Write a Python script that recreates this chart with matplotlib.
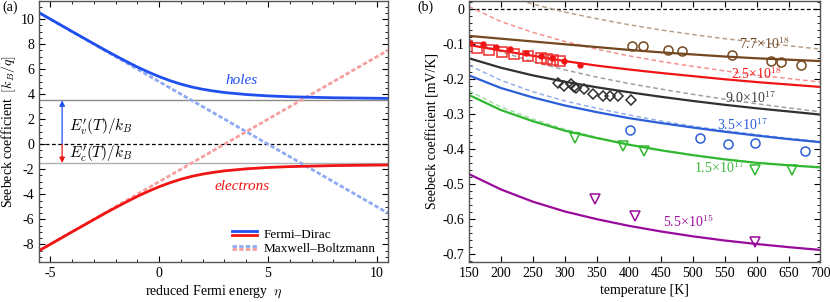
import numpy as np
import matplotlib
matplotlib.use("Agg")
import matplotlib.pyplot as plt
from matplotlib.legend_handler import HandlerBase
from matplotlib.lines import Line2D
from matplotlib.ticker import MultipleLocator, FuncFormatter

plt.rcParams["font.family"] = "Liberation Serif"
plt.rcParams["mathtext.fontset"] = "cm"
plt.rcParams["axes.unicode_minus"] = False
plt.rcParams["font.size"] = 10

# ---- panel (a): Seebeck vs reduced Fermi energy ----
eta = [-5.5, -4.5, -4, -3.5, -3, -2.5, -2, -1.5, -1, -0.5, 0, 0.5, 1, 1.5,
       2, 2.5, 3, 4, 5, 6, 7, 8, 9, 10.5]
S_holes_fd = [10.50, 9.51, 9.01, 8.52, 8.03, 7.54, 7.07, 6.61, 6.17, 5.77, 5.40,
              5.08, 4.80, 4.57, 4.39, 4.25, 4.13, 3.97, 3.86, 3.79, 3.75, 3.71,
              3.69, 3.66]
S_elec_fd = [-8.50, -7.51, -7.01, -6.52, -6.03, -5.54, -5.07, -4.61, -4.17, -3.77,
             -3.40, -3.08, -2.80, -2.57, -2.39, -2.25, -2.13, -1.97, -1.86, -1.79,
             -1.75, -1.71, -1.69, -1.66]
eta_mb = [-5.5, 10.5]
S_holes_mb = [10.5, -5.5]
S_elec_mb = [-8.5, 7.5]
Ev_level = 3.5
Ec_level = -1.5
arrow_eta = -4.45

# ---- panel (b): Seebeck vs temperature ----
T = [150, 200, 250, 300, 350, 400, 450, 500, 550, 600, 650, 700]
fd_77e18 = [-0.076, -0.084, -0.092, -0.100, -0.108, -0.116, -0.123, -0.129, -0.135, -0.140, -0.144, -0.148]
fd_25e18 = [-0.102, -0.118, -0.133, -0.148, -0.161, -0.172, -0.182, -0.191, -0.200, -0.208, -0.215, -0.222]
fd_90e17 = [-0.140, -0.167, -0.189, -0.207, -0.223, -0.237, -0.250, -0.262, -0.273, -0.283, -0.292, -0.301]
fd_35e17 = [-0.189, -0.225, -0.252, -0.275, -0.294, -0.311, -0.325, -0.338, -0.350, -0.361, -0.371, -0.380]
fd_15e17 = [-0.245, -0.288, -0.320, -0.347, -0.368, -0.387, -0.403, -0.417, -0.429, -0.439, -0.446, -0.452]
fd_55e15 = [-0.471, -0.515, -0.550, -0.578, -0.600, -0.619, -0.635, -0.649, -0.661, -0.671, -0.680, -0.688]

T_mb77 = [230, 250, 300, 350, 400, 450, 500, 550, 600, 650, 700]
mb_77e18 = [0.026, 0.015, -0.008, -0.027, -0.044, -0.059, -0.072, -0.084, -0.094, -0.104, -0.114]
mb_25e18 = [0.008, -0.035, -0.066, -0.092, -0.114, -0.133, -0.149, -0.163, -0.176, -0.188, -0.198, -0.208]
mb_90e17 = [-0.086, -0.121, -0.150, -0.173, -0.194, -0.212, -0.228, -0.243, -0.257, -0.270, -0.282, -0.293]
mb_35e17 = [-0.160, -0.203, -0.236, -0.262, -0.283, -0.302, -0.319, -0.334, -0.347, -0.358, -0.369, -0.378]
mb_15e17 = [-0.233, -0.279, -0.314, -0.343, -0.366, -0.386, -0.402, -0.416, -0.428, -0.438, -0.445, -0.451]

T_circ_br = [405, 422, 462, 483, 562, 623, 639, 670]
S_circ_br = [-0.104, -0.106, -0.116, -0.120, -0.131, -0.147, -0.151, -0.158]
T_dot_red = [152, 172, 193, 215, 240, 262, 280, 298, 323]
S_dot_red = [-0.095, -0.098, -0.108, -0.114, -0.126, -0.134, -0.140, -0.148, -0.158]
T_sq_red = [162, 181, 202, 221, 242, 262, 272, 281, 292]
S_sq_red = [-0.112, -0.117, -0.123, -0.128, -0.134, -0.139, -0.142, -0.145, -0.148]
T_dia = [290, 298, 310, 314, 318, 330, 344, 359, 370, 383, 403]
S_dia = [-0.210, -0.218, -0.214, -0.221, -0.224, -0.228, -0.241, -0.248, -0.249, -0.249, -0.259]
T_circ_bl = [402, 512, 556, 598, 676]
S_circ_bl = [-0.344, -0.367, -0.385, -0.382, -0.405]
T_tri_gr = [316, 391, 424, 598, 656]
S_tri_gr = [-0.369, -0.390, -0.404, -0.459, -0.459]
T_tri_pu = [347, 410, 598]
S_tri_pu = [-0.542, -0.592, -0.665]

conc_labels = ["7.7×10$^{18}$", "2.5×10$^{18}$", "9.0×10$^{17}$",
               "3.5×10$^{17}$", "1.5×10$^{17}$", "5.5×10$^{15}$"]
conc_T = [612, 600, 590, 578, 542, 494]
conc_S = [-0.100, -0.185, -0.255, -0.332, -0.455, -0.607]


class PairHandler(HandlerBase):
    # two parallel lines (holes on top, electrons below)
    def create_artists(self, legend, orig_handle, xdescent, ydescent,
                       width, height, fontsize, trans):
        arts = []
        mid = (height - ydescent) / 2
        for ln, dy in zip(orig_handle, (0.2 * height, -0.2 * height)):
            l = Line2D([-xdescent, width - xdescent], [mid + dy, mid + dy])
            l.update_from(ln)
            l.set_transform(trans)
            arts.append(l)
        return arts


fig = plt.figure(figsize=(8.3, 3.02), dpi=100)
ax1 = fig.add_axes([0.0473, 0.133, 0.420, 0.864])
ax2 = fig.add_axes([0.565, 0.133, 0.4235, 0.864])

blue, red = "#1f4fef", "#f01414"
blue_mb, red_mb = "#8eaaf3", "#f5a0a0"
mb_dash = (0, (1.6, 0.8))

ax1.axhline(Ev_level, color="#8a8a8a", lw=1.0)
ax1.axhline(Ec_level, color="#b0b0b0", lw=1.0)
ax1.axhline(0, color="black", lw=0.9, dashes=(3, 2))
mb_h, = ax1.plot(eta_mb, S_holes_mb, color=blue_mb, lw=2.0, linestyle=mb_dash)
mb_e, = ax1.plot(eta_mb, S_elec_mb, color=red_mb, lw=2.0, linestyle=mb_dash)
fd_h, = ax1.plot(eta, S_holes_fd, color=blue, lw=2.0)
fd_e, = ax1.plot(eta, S_elec_fd, color=red, lw=2.0)

ax1.annotate("", xy=(arrow_eta, Ev_level), xytext=(arrow_eta, 0),
             arrowprops=dict(arrowstyle="-|>", color=blue, lw=0.9,
                             mutation_scale=8, shrinkA=0, shrinkB=0))
ax1.annotate("", xy=(arrow_eta, Ec_level), xytext=(arrow_eta, 0),
             arrowprops=dict(arrowstyle="-|>", color=red, lw=0.9,
                             mutation_scale=8, shrinkA=0, shrinkB=0))
ax1.text(-4.13, 1.4, r"$E_v'(T)/k_B$", fontsize=11, va="center")
ax1.text(-4.13, -0.8, r"$E_c'(T)/k_B$", fontsize=11, va="center")
ax1.text(3.8, 5.1, "holes", color=blue, style="italic", fontsize=11, ha="center", va="center")
ax1.text(3.8, -3.4, "electrons", color=red, style="italic", fontsize=11, ha="center", va="center")

ax1.legend([(fd_h, fd_e), (mb_h, mb_e)], ["Fermi–Dirac", "Maxwell–Boltzmann"],
           handler_map={tuple: PairHandler()}, loc="lower right",
           bbox_to_anchor=(1.0, -0.02), frameon=False, handlelength=1.9,
           handletextpad=0.5, labelspacing=0.15, fontsize=9.5)

ax1.set_xlim(-5.5, 10.5)
ax1.set_ylim(-9.4, 11.45)
ax1.xaxis.set_major_locator(MultipleLocator(5))
ax1.xaxis.set_minor_locator(MultipleLocator(1))
ax1.yaxis.set_major_locator(MultipleLocator(2))
ax1.yaxis.set_minor_locator(MultipleLocator(0.5))
ax1.set_xlabel(r"reduced Fermi energy  $\eta$", labelpad=3)
ax1.set_ylabel(r"Seebeck coefficient  $[k_B/q]$", labelpad=2)

# panel (b)
ax2.axhline(0, color="black", lw=0.9, dashes=(3, 2))
mb_curves = [
    (T_mb77, mb_77e18, "#b8a08a"),
    (T, mb_25e18, "#f59090"),
    (T, mb_90e17, "#a0a0a0"),
    (T, mb_35e17, "#95b0ec"),
    (T, mb_15e17, "#a5dea5"),
]
for tt, ss, cc in mb_curves:
    ax2.plot(tt, ss, color=cc, lw=1.1, dashes=(3, 2))

sol_cols = ["#74481e", "#f01414", "#303030", "#2a5fd8", "#30b830", "#9a0a9a"]
for ss, cc in zip([fd_77e18, fd_25e18, fd_90e17, fd_35e17, fd_15e17, fd_55e15], sol_cols):
    ax2.plot(T, ss, color=cc, lw=1.6)

mk = dict(linestyle="none", markerfacecolor="none", markeredgewidth=1.1)
ax2.plot(T_circ_br, S_circ_br, marker="o", ms=6.5, markeredgecolor="#74481e", **mk)
ax2.plot(T_sq_red, S_sq_red, marker="s", ms=6.5, markeredgecolor="#f03030", **mk)
ax2.plot(T_dot_red, S_dot_red, marker="o", ms=3.6, linestyle="none", color="#f01414")
ax2.plot(T_dia, S_dia, marker="D", ms=5.5, markeredgecolor="#303030", **mk)
ax2.plot(T_circ_bl, S_circ_bl, marker="o", ms=6.5, markeredgecolor="#2a5fd8", **mk)
ax2.plot(T_tri_gr, S_tri_gr, marker="v", ms=7, markeredgecolor="#30b830", **mk)
ax2.plot(T_tri_pu, S_tri_pu, marker="v", ms=7, markeredgecolor="#9a0a9a", **mk)

lab_cols = ["#6e4a28", "#f02020", "#404040", "#2a5fd8", "#3cb83c", "#a010a0"]
for lab, tx, sy, cc in zip(conc_labels, conc_T, conc_S, lab_cols):
    ax2.text(tx, sy, lab, color=cc, fontsize=10, ha="center", va="center")

ax2.set_xlim(150, 700)
ax2.set_ylim(-0.722, 0.024)
ax2.xaxis.set_major_locator(MultipleLocator(50))
ax2.yaxis.set_major_locator(MultipleLocator(0.1))
ax2.yaxis.set_minor_locator(MultipleLocator(0.02))
ax2.yaxis.set_major_formatter(FuncFormatter(lambda v, p: "0" if abs(v) < 1e-9 else f"{v:.1f}"))
ax2.set_xlabel("temperature [K]", labelpad=3)
ax2.set_ylabel("Seebeck coefficient [mV/K]", labelpad=2)

for ax in (ax1, ax2):
    ax.tick_params(which="both", direction="in", top=True, right=True, labelsize=10)
    ax.tick_params(which="major", length=4, width=0.8)
    ax.tick_params(which="minor", length=2, width=0.6)
    for sp in ax.spines.values():
        sp.set_color("#555555")
        sp.set_linewidth(1.0)

fig.text(0.003, 0.975, "(a)", fontsize=10, va="center")
fig.text(0.503, 0.975, "(b)", fontsize=10, va="center")

fig.savefig("out.png", dpi=100)
